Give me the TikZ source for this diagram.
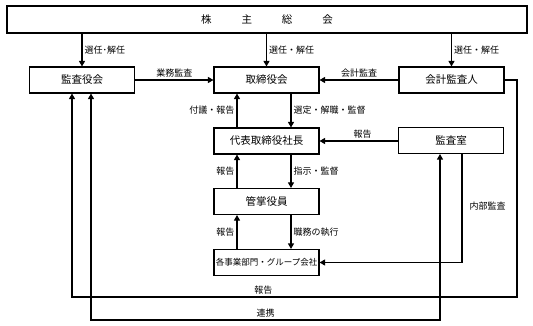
\documentclass[tikz,border=0pt]{standalone}
\usepackage{fontspec}
\setmainfont{Noto Sans CJK JP}
\usetikzlibrary{arrows.meta, positioning}

\begin{document}
\begin{tikzpicture}[x=1pt, y=-1pt, line width=1.1pt,
  box/.style={draw, minimum width=105pt, minimum height=26pt, inner sep=0pt, font=\fontsize{10.5}{12}\selectfont},
  lbl/.style={font=\fontsize{9}{10}\selectfont, inner sep=2pt},
  arr/.style={-{Triangle[length=5.5pt,width=6pt]}},
  darr/.style={{Triangle[length=5.5pt,width=6pt]}-{Triangle[length=5.5pt,width=6pt]}}]
  \useasboundingbox (0,0) rectangle (533,326);
  % boxes
  \node[box, minimum width=520pt, minimum height=27pt] (gm) at (267,19.5) {株\hspace{30pt}主\hspace{30pt}総\hspace{30pt}会};
  \node[box] (kansayaku) at (82,80) {監査役会};
  \node[box] (torishimari) at (266.5,80) {取締役会};
  \node[box] (kaikei) at (451.5,80) {会計監査人};
  \node[box] (shacho) at (266.5,141) {代表取締役社長};
  \node[box] (kansashitsu) at (451,140.5) {監査室};
  \node[box] (kansho) at (266.5,201.5) {管掌役員};
  \node[box, font=\fontsize{8.5}{10}\selectfont] (jigyo) at (266.5,262.5) {各事業部門・グループ会社};
  \coordinate (rb) at (517,297);
  \coordinate (lb) at (72,297);
  \coordinate (lc) at (91,320);
  % election
  \draw[arr] (kansayaku |- gm.south) -- node[lbl, right] {選任･解任} (kansayaku);
  \draw[arr] (torishimari |- gm.south) -- node[lbl, right] {選任・解任} (torishimari);
  \draw[arr] (kaikei |- gm.south) -- node[lbl, right] {選任・解任} (kaikei);
  % audits
  \draw[arr] (kansayaku) -- node[lbl, above] {業務監査} (torishimari);
  \draw[arr] (kaikei) -- node[lbl, above] {会計監査} (torishimari);
  \draw[arr] (kansashitsu.west |- shacho) -- node[lbl, above, pos=.45] {報告} (shacho);
  % middle column
  \draw[arr] ([xshift=-29.5pt]shacho.north) -- node[lbl, left] {付議・報告} ([xshift=-29.5pt]torishimari.south);
  \draw[arr] ([xshift=24.5pt]torishimari.south) -- node[lbl, right] {選定・解職・監督} ([xshift=24.5pt]shacho.north);
  \draw[arr] ([xshift=-29.5pt]kansho.north) -- node[lbl, left] {報告} ([xshift=-29.5pt]shacho.south);
  \draw[arr] ([xshift=24.5pt]shacho.south) -- node[lbl, right] {指示・監督} ([xshift=24.5pt]kansho.north);
  \draw[arr] ([xshift=-29.5pt]jigyo.north) -- node[lbl, left] {報告} ([xshift=-29.5pt]kansho.south);
  \draw[arr] ([xshift=24.5pt]kansho.south) -- node[lbl, right] {職務の執行} ([xshift=24.5pt]jigyo.north);
  % internal audit
  \draw[arr] ([xshift=11pt]kansashitsu.south) |- node[lbl, right=5pt, pos=.24] {内部監査} (jigyo.east);
  % loops at the bottom
  \draw[arr] (kaikei.east) -| (rb) -- node[lbl, above, pos=.57] {報告} (lb) -- (lb |- kansayaku.south);
  \draw[darr] ([xshift=-11pt]kansashitsu.south) |- node[lbl, above, pos=.75] {連携} (lc) -- (lc |- kansayaku.south);
\end{tikzpicture}
\end{document}
